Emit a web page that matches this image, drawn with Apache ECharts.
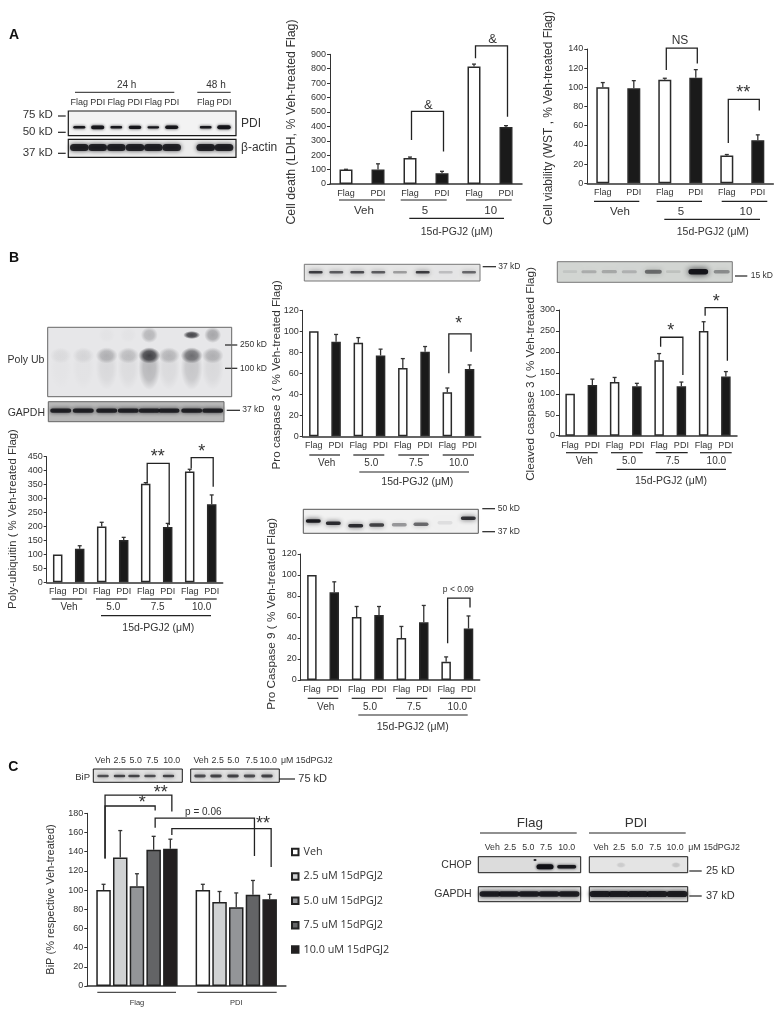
<!DOCTYPE html>
<html>
<head>
<meta charset="utf-8">
<title>PDI panels</title>
<script src="https://cdn.jsdelivr.net/npm/echarts@6/dist/echarts.min.js"></script>
<style>
  html, body { margin: 0; padding: 0; background: #fff; }
  #chart { width: 780px; height: 1017px; }
</style>
</head>
<body>
<div id="chart"></div>
<script>
const flagPdi6 = ['Flag', 'PDI', 'Flag', 'PDI', 'Flag', 'PDI']
const flagPdi8 = ['Flag', 'PDI', 'Flag', 'PDI', 'Flag', 'PDI', 'Flag', 'PDI']

const ldhValues = [100, 100, 180, 75, 815, 395]
const ldhErrors = [2, 40, 7, 13, 17, 10]
const ldhBrackets = [[2, 3, 305, 225, 504], [4, 5, 872, 467, 958]]

const wstValues = [100, 99, 108, 110, 29, 45]
const wstErrors = [5, 8, 1.5, 8.5, 1, 5.5]
const wstBrackets = [[2, 3, 118, 125, 141], [4, 5, 42, 76, 87.5]]

const polyUbValues = [100, 120, 200, 152, 353, 198, 397, 280]
const polyUbErrors = [0, 11, 15, 9, 4, 13, 8, 33]
const polyUbBrackets = [[4, 5, 354, 205, 426], [6, 7, 408, 342, 447]]

const proCasp3Values = [100, 90, 89, 77, 65, 80.5, 42, 64]
const proCasp3Errors = [0, 7, 5, 6, 9, 5, 4, 4]
const proCasp3Brackets = [[6, 7, 60, 80.6, 97.5]]

const cleavedValues = [100, 121, 128, 118, 180, 118, 250, 141]
const cleavedErrors = [0, 14, 11, 7, 16, 10, 22, 12]
const cleavedBrackets = [[4, 5, 212, 145, 235], [6, 7, 286, 179, 305.5]]

const proCasp9Values = [100, 83.5, 60, 62, 40, 55, 17.5, 49]
const proCasp9Errors = [0, 10, 10, 8, 11, 16, 4.5, 12]
const proCasp9Brackets = [[6, 7, 35, 69, 78]]

const bipGroups = ['Flag', 'PDI']
const bipDoses = ['Veh', '2.5 uM 15dPGJ2', '5.0 uM 15dPGJ2', '7.5 uM 15dPGJ2', '10.0 uM 15dPGJ2']
const bipFlagValues = [100, 134, 104, 142, 143]
const bipFlagErrors = [6, 28, 13, 14, 10]
const bipPdiValues = [100, 87.5, 82, 95, 90.5]
const bipPdiErrors = [6, 11, 15, 15, 5]
// slots 0-4 are the Flag bars, 5-9 the PDI bars
const bipBrackets = [[0, 4, 133, 182, 199], [0, 3, 133, 182.8, 187.6], [3, 8, 165, 135.5, 175], [4, 9, 157.4, 124, 164]]
const bipColors = ['#ffffff', '#d0d2d3', '#939598', '#636466', '#231f20']

const pdiBlotStrength = [2, 3.2, 1.8, 2.6, 1.7, 3, 1.8, 3.5]
const polyUbMainBand = [0.05, 0.07, 0.22, 0.17, 0.72, 0.2, 0.5, 0.22]
const polyUbTopBand = [0, 0, 0.02, 0.02, 0.22, 0, 0.75, 0.3]
const proCasp3Blot = [0.75, 0.6, 0.68, 0.6, 0.32, 0.75, 0.18, 0.55]
const cleavedBlot = [0.08, 0.2, 0.22, 0.18, 0.5, 0.1, 0.95, 0.35]
const proCasp9Blot = [0.92, 0.82, 0.82, 0.72, 0.36, 0.55, 0.08, 0.8]
const bipBlot = [0.65, 0.7, 0.7, 0.65, 0.7]
const chopFlagBlot = [0, 0, 0, 0.98, 0.9]
const chopPdiBlot = [0, 0.12, 0, 0, 0.15]

const FONT = '"Liberation Sans", Arial, sans-serif'
const INK = '#333'

const grids = []
const xAxes = []
const yAxes = []
const seriesList = []
const gfx = []

const txt = (text, x, y, o = {}) => {
  gfx.push({
    type: 'text', x, y, rotation: o.rot || 0, silent: true, z: 20,
    style: {
      text,
      fill: o.color || INK,
      font: `${o.weight || 'normal'} ${o.size || 9}px ${o.family || FONT}`,
      align: o.align || 'center',
      verticalAlign: 'middle'
    }
  })
}

const ln = (x1, y1, x2, y2, width = 1, color = '#222') => {
  gfx.push({ type: 'line', silent: true, shape: { x1, y1, x2, y2 }, style: { stroke: color, lineWidth: width } })
}

const panelBg = (x, y, w, h, fill) => {
  gfx.push({ type: 'rect', silent: true, shape: { x, y, width: w, height: h }, style: { fill } })
}

const panelBorder = (x, y, w, h, color = '#222', width = 1) => {
  gfx.push({ type: 'rect', silent: true, z: 5, shape: { x, y, width: w, height: h }, style: { fill: 'none', stroke: color, lineWidth: width } })
}

// soft diffuse patch, used for the smears of the poly ub blot
const band = (cx, cy, rx, ry, alpha) => {
  if (alpha <= 0) return
  gfx.push({
    type: 'circle', silent: true, x: cx, y: cy, scaleX: rx / 10, scaleY: ry / 10,
    shape: { cx: 0, cy: 0, r: 10 },
    style: {
      fill: new echarts.graphic.RadialGradient(0.5, 0.5, 0.5, [
        { offset: 0, color: `rgba(15,15,20,${alpha})` },
        { offset: 0.55, color: `rgba(15,15,20,${alpha * 0.85})` },
        { offset: 1, color: 'rgba(15,15,20,0)' }
      ])
    }
  })
}

// flat western blot band with a blurred edge
const strip = (cx, cy, w, h, alpha, blur = 3) => {
  if (alpha <= 0) return
  const color = `rgba(15,15,20,${alpha})`
  gfx.push({
    type: 'rect', silent: true,
    shape: { x: cx - w / 2, y: cy - h / 2, width: w, height: h, r: h / 2 },
    style: { fill: color, shadowBlur: blur, shadowColor: color }
  })
}

// 6 or 8 bar panel: white Flag bars, black PDI bars, sd whiskers and brackets in data units
function barPanel(p) {
  const idx = grids.length
  grids.push({ left: p.left, top: p.top, width: p.width, height: p.height })
  xAxes.push(xAxisOf(idx, p.categories, p.labelMargin || 5))
  yAxes.push(yAxisOf(idx, p.max, p.interval))
  seriesList.push({
    type: 'bar',
    xAxisIndex: idx,
    yAxisIndex: idx,
    barWidth: p.barWidth,
    data: p.values.map((v, i) => ({
      value: v,
      itemStyle: {
        color: i % 2 ? '#1a1a1a' : '#fff',
        borderColor: '#2a2a2a',
        borderWidth: 1.5
      }
    }))
  })
  seriesList.push(errorSeries(idx, p.values, p.errors, 0))
  seriesList.push(bracketSeries(idx, p.brackets, (api, slot) => api.coord([slot, 0])[0]))
}

function xAxisOf(idx, categories, margin) {
  return {
    type: 'category',
    gridIndex: idx,
    data: categories,
    axisTick: { show: false },
    axisLine: { lineStyle: { color: '#333', width: 1.5 } },
    axisLabel: { interval: 0, color: INK, fontSize: 9, fontFamily: FONT, margin }
  }
}

function yAxisOf(idx, max, interval) {
  return {
    type: 'value',
    gridIndex: idx,
    min: 0,
    max,
    interval,
    splitLine: { show: false },
    axisLine: { show: true, lineStyle: { color: '#333', width: 1 } },
    axisTick: { show: true, length: 3, lineStyle: { color: '#333' } },
    axisLabel: { color: INK, fontSize: 9, fontFamily: FONT, margin: 4 }
  }
}

function errorSeries(idx, values, errors, offset) {
  return {
    type: 'custom',
    xAxisIndex: idx,
    yAxisIndex: idx,
    silent: true,
    z: 3,
    data: values.map((v, i) => [i, v, v + errors[i]]),
    encode: { x: 0, y: [1, 2] },
    renderItem: (params, api) => {
      const i = params.dataIndex
      if (!errors[i]) return null
      const a = api.coord([i, values[i]])
      const b = api.coord([i, values[i] + errors[i]])
      const x = a[0] + offset
      const style = { stroke: '#333', lineWidth: 1.3 }
      return {
        type: 'group',
        children: [
          { type: 'line', shape: { x1: x, y1: a[1], x2: x, y2: b[1] }, style },
          { type: 'line', shape: { x1: x - 2, y1: b[1], x2: x + 2, y2: b[1] }, style }
        ]
      }
    }
  }
}

function bracketSeries(idx, rows, xOf) {
  return {
    type: 'custom',
    xAxisIndex: idx,
    yAxisIndex: idx,
    silent: true,
    z: 4,
    clip: false,
    data: rows.map(r => [0, r[4]]),
    encode: { x: 0, y: 1 },
    renderItem: (params, api) => {
      const r = rows[params.dataIndex]
      const x1 = xOf(api, r[0]) + 1.5
      const x2 = xOf(api, r[1]) + 1.5
      const y = v => api.coord([0, v])[1]
      return {
        type: 'polyline',
        shape: { points: [[x1, y(r[2])], [x1, y(r[4])], [x2, y(r[4])], [x2, y(r[3])]] },
        style: { stroke: '#222', lineWidth: 1.3, fill: 'none' }
      }
    }
  }
}

// ---- section letters ----
txt('A', 14, 34.7, { size: 14, weight: 'bold', color: '#111' })
txt('B', 14, 258.3, { size: 14, weight: 'bold', color: '#111' })
txt('C', 13.3, 767.3, { size: 14, weight: 'bold', color: '#111' })

// ---- dose labelling under a panel ----
function doseLabels(underY, unders, labelY, labels, lineY, lineX, title, size) {
  unders.forEach(u => ln(u[0], underY, u[1], underY, 1.2))
  labels.forEach(l => txt(l[0], l[1], labelY, { size: size }))
  ln(lineX[0], lineY, lineX[1], lineY, 1.2)
  txt('15d-PGJ2 (μM)', title[0], title[1], { size: 10.5 })
}

// ---- A: blot ----
const aLanes = [79.3, 97.7, 116.3, 135, 153.3, 171.7, 205.7, 224]
txt('24 h', 126.7, 85.7, { size: 10 })
txt('48 h', 216, 85.7, { size: 10 })
ln(75, 92.3, 174.3, 92.3)
ln(197.3, 92.3, 230.7, 92.3)
aLanes.forEach((x, i) => txt(flagPdi8[i], x, 102.3, { size: 9 }))
panelBg(68.3, 111, 167.7, 24.7, '#f3f3f3')
panelBg(68.3, 139.3, 167.7, 18, '#ececec')
aLanes.forEach((x, i) => strip(x, 127.3, 10 + pdiBlotStrength[i], pdiBlotStrength[i] + 0.6, 0.92))
aLanes.forEach(x => strip(x, 147.5, 18.6, 7, 0.85, 4))
panelBorder(68.3, 111, 167.7, 24.7, '#1a1a1a', 1.2)
panelBorder(68.3, 139.3, 167.7, 18, '#1a1a1a', 1.2)
txt('75 kD', 52.7, 115.3, { size: 11.5, align: 'right' })
txt('50 kD', 52.7, 132, { size: 11.5, align: 'right' })
txt('37 kD', 52.7, 152.7, { size: 11.5, align: 'right' })
ln(58, 116, 65.7, 116, 1.2)
ln(58, 132.3, 65.7, 132.3, 1.2)
ln(58, 153.3, 65.7, 153.3, 1.2)
txt('PDI', 241, 124, { size: 12, align: 'left' })
txt('β-actin', 241, 148, { size: 12, align: 'left' })

// ---- A: LDH ----
barPanel({
  left: 330, top: 54.3, width: 192, height: 129.7, categories: flagPdi6, max: 900, interval: 100,
  values: ldhValues, errors: ldhErrors, brackets: ldhBrackets, barWidth: 13
})
txt('Cell death (LDH, % Veh-treated Flag)', 291.7, 122, { size: 12.4, rot: Math.PI / 2 })
txt('&', 428.3, 105, { size: 13 })
txt('&', 492.7, 39.3, { size: 13 })
doseLabels(200, [[339, 385], [400.7, 446.7], [466, 511.7]], 211, [['Veh', 364], ['5', 425], ['10', 490.7]],
  218.3, [409.3, 504], [456.7, 231.7], 11.5)

// ---- A: WST ----
barPanel({
  left: 587.3, top: 49, width: 186, height: 134.3, categories: flagPdi6, max: 140, interval: 20,
  values: wstValues, errors: wstErrors, brackets: wstBrackets, barWidth: 13
})
txt('Cell viability (WST , % Veh-treated Flag)', 549, 118, { size: 12, rot: Math.PI / 2 })
txt('NS', 680, 40.7, { size: 12 })
txt('**', 743.3, 93, { size: 18 })
doseLabels(201.3, [[594, 639.3], [656.7, 702], [721.7, 767.3]], 211.7, [['Veh', 620], ['5', 681], ['10', 746]],
  219.3, [664.3, 760], [712.7, 232.3], 11.5)

// ---- B: poly ub blot ----
const ubLanes = [60.7, 83.3, 106.7, 128.3, 149.3, 169, 191.7, 212.7]
panelBg(47.7, 327.3, 184, 69.4, '#e7e7e9')
ubLanes.forEach((x, i) => {
  band(x, 368, 11, 22, polyUbMainBand[i] * 0.3)
  band(x, 355.5, 11, 8, polyUbMainBand[i])
  band(x, 335, 8.5, polyUbTopBand[i] > 0.5 ? 4 : 8, polyUbTopBand[i])
})
panelBorder(47.7, 327.3, 184, 69.4, '#666')
panelBg(48.3, 401.7, 175.7, 20, '#b8b8b8')
ubLanes.forEach(x => strip(x, 410.7, 21, 4.2, 0.85, 4))
panelBorder(48.3, 401.7, 175.7, 20, '#666')
txt('Poly Ub', 44.3, 360.3, { size: 10.5, align: 'right' })
txt('GAPDH', 45, 412.7, { size: 10.5, align: 'right' })
ln(225, 345, 237.3, 345, 1.2)
ln(225, 368.3, 237.3, 368.3, 1.2)
ln(226.7, 410.3, 240, 410.3, 1.2)
txt('250 kD', 240, 345, { size: 8.5, align: 'left' })
txt('100 kD', 240, 368.3, { size: 8.5, align: 'left' })
txt('37 kD', 242.3, 410, { size: 8.5, align: 'left' })

// ---- B: poly ub chart ----
barPanel({
  left: 46.7, top: 456.7, width: 176, height: 125.6, categories: flagPdi8, max: 450, interval: 50,
  values: polyUbValues, errors: polyUbErrors, brackets: polyUbBrackets, barWidth: 9.5
})
txt('Poly-ubiquitin ( % Veh-treated Flag)', 13.3, 519, { size: 11.4, rot: Math.PI / 2 })
txt('**', 157.7, 457, { size: 18 })
txt('*', 201.7, 452, { size: 18 })
doseLabels(599, [[51.7, 82.3], [96, 127.3], [140.7, 172], [185, 216.7]], 607.3,
  [['Veh', 69], ['5.0', 113.3], ['7.5', 157.7], ['10.0', 201.7]], 615.7, [101, 211], [158.3, 628.3], 10)

// ---- B: pro caspase 3 ----
panelBg(304.3, 264.3, 175.7, 16.7, '#e6e6e6')
;[315.7, 336.3, 357.3, 378.3, 400, 422.7, 445.7, 469].forEach((x, i) => strip(x, 272.3, 14, 2.4, proCasp3Blot[i], 5))
panelBorder(304.3, 264.3, 175.7, 16.7, '#777')
ln(482.7, 266.7, 496, 266.7, 1.2)
txt('37 kD', 498.3, 266.7, { size: 8.5, align: 'left' })
barPanel({
  left: 302.7, top: 310.3, width: 178, height: 126, categories: flagPdi8, max: 120, interval: 20,
  values: proCasp3Values, errors: proCasp3Errors, brackets: proCasp3Brackets, barWidth: 9.5
})
txt('Pro caspase 3 ( % Veh-treated Flag)', 276.7, 375, { size: 11.7, rot: Math.PI / 2 })
txt('*', 458.7, 324, { size: 18 })
doseLabels(455, [[309.3, 340], [353.3, 384.3], [398.3, 429], [442.7, 474]], 463.7,
  [['Veh', 326.7], ['5.0', 371.3], ['7.5', 416], ['10.0', 458.7]], 472, [359.3, 469], [417.3, 482.3], 10)

// ---- B: cleaved caspase 3 ----
panelBg(557.3, 261.7, 175, 20.6, '#d3d6d3')
;[570, 589, 609.3, 629.3, 653.3, 673.3, 698.3, 721.7].forEach((x, i) => strip(x, 271.7, 14 + cleavedBlot[i] * 6, 2.5 + cleavedBlot[i] * 3, cleavedBlot[i], 6))
panelBorder(557.3, 261.7, 175, 20.6, '#777')
ln(735, 276, 747.3, 276, 1.2)
txt('15 kD', 750.7, 276, { size: 8.5, align: 'left' })
barPanel({
  left: 559, top: 310, width: 178, height: 125.7, categories: flagPdi8, max: 300, interval: 50,
  values: cleavedValues, errors: cleavedErrors, brackets: cleavedBrackets, barWidth: 9.5
})
txt('Cleaved caspase 3 ( % Veh-treated Flag)', 530.7, 374, { size: 11.7, rot: Math.PI / 2 })
txt('*', 670.7, 331, { size: 18 })
txt('*', 716.3, 302, { size: 18 })
doseLabels(452.7, [[566, 597.7], [611, 642.7], [655.7, 687.7], [700, 731.7]], 461.3,
  [['Veh', 584.3], ['5.0', 629], ['7.5', 672.7], ['10.0', 716.3]], 469.3, [616.7, 726], [671, 481], 10)

// ---- B: pro caspase 9 ----
panelBg(303.3, 509.3, 175, 24, '#f1f1f1')
;[[313.3, 521], [333.3, 523.3], [355.7, 525.7], [376.7, 525], [399.3, 524.7], [421, 524.3], [445, 522.7], [468.3, 518.3]]
  .forEach((b, i) => strip(b[0], b[1], 15, 3.4, proCasp9Blot[i], 5))
panelBorder(303.3, 509.3, 175, 24, '#555')
ln(482.3, 508.7, 495, 508.7, 1.2)
ln(482.3, 531.7, 495, 531.7, 1.2)
txt('50 kD', 497.7, 508.7, { size: 8.5, align: 'left' })
txt('37 kD', 497.7, 531.7, { size: 8.5, align: 'left' })
barPanel({
  left: 300.7, top: 554, width: 179, height: 126, categories: flagPdi8, max: 120, interval: 20,
  values: proCasp9Values, errors: proCasp9Errors, brackets: proCasp9Brackets, barWidth: 9.5
})
txt('Pro Caspase 9 ( % Veh-treated Flag)', 271.7, 614, { size: 11.7, rot: Math.PI / 2 })
txt('p < 0.09', 458.3, 590, { size: 8.5 })
doseLabels(698.3, [[307.7, 338.3], [351.7, 382.7], [396, 427.3], [440, 471.7]], 707,
  [['Veh', 325.7], ['5.0', 370], ['7.5', 414], ['10.0', 457.3]], 715, [358.3, 467.7], [412.7, 727.3], 10)

// ---- C: BiP blot ----
const bipLabels = ['Veh', '2.5', '5.0', '7.5', '10.0']
;[102.7, 119.7, 135.7, 152.3, 171.7, 201, 217.7, 233.3, 251.7, 268.3].forEach((x, i) => txt(bipLabels[i % 5], x, 761, { size: 8.8 }))
txt('μM 15dPGJ2', 281, 761, { size: 8.8, align: 'left' })
panelBg(93.3, 769, 89, 13.3, '#e2e2e2')
panelBg(190.7, 769, 88.6, 13.3, '#e2e2e2')
;[103, 119.5, 134, 150, 168.5].forEach((x, i) => strip(x, 776, 11.5, 2.4, bipBlot[i], 4))
;[200, 216, 233, 249.5, 267].forEach((x, i) => strip(x, 776, 11.5, 2.8, bipBlot[i], 4))
panelBorder(93.3, 769, 89, 13.3, '#1a1a1a')
panelBorder(190.7, 769, 88.6, 13.3, '#1a1a1a')
txt('BiP', 90, 777.3, { size: 9.5, align: 'right' })
ln(279, 779, 295, 779, 1.2)
txt('75 kD', 298.3, 779, { size: 11, align: 'left' })

// ---- C: BiP chart ----
const bipIdx = grids.length
const bipSlotGap = 16.7
grids.push({ left: 87.3, top: 813.3, width: 198.6, height: 172.7 })
xAxes.push(xAxisOf(bipIdx, bipGroups, 13))
xAxes[bipIdx].axisLabel.fontSize = 7.5
yAxes.push(yAxisOf(bipIdx, 180, 20))
bipColors.forEach((color, s) => {
  seriesList.push({
    type: 'bar',
    name: bipDoses[s],
    xAxisIndex: bipIdx,
    yAxisIndex: bipIdx,
    barWidth: 14.5,
    barGap: '15.2%',
    itemStyle: { color, borderColor: '#222', borderWidth: 1.5 },
    data: [bipFlagValues[s], bipPdiValues[s]]
  })
  seriesList.push(errorSeries(bipIdx, [bipFlagValues[s], bipPdiValues[s]], [bipFlagErrors[s], bipPdiErrors[s]], (s - 2) * bipSlotGap))
})
seriesList.push(bracketSeries(bipIdx, bipBrackets, (api, slot) =>
  api.coord([slot < 5 ? 0 : 1, 0])[0] + (slot % 5 - 2) * bipSlotGap))
txt('BiP (% respective Veh-treated)', 51, 899.5, { size: 11, rot: Math.PI / 2 })
txt('*', 142.3, 803, { size: 18 })
txt('**', 160.7, 793, { size: 18 })
txt('p = 0.06', 203.3, 812.3, { size: 10 })
txt('**', 263, 824, { size: 18 })
ln(97.3, 992.3, 176, 992.3)
ln(197.3, 992.3, 276.7, 992.3)

// ---- C: CHOP blot ----
txt('Flag', 530, 823.3, { size: 13.5 })
txt('PDI', 636, 823.3, { size: 13.5 })
ln(480, 833, 576.7, 833, 1.2)
ln(589, 833, 685.7, 833, 1.2)
;[492.3, 510, 528.3, 546, 566.7, 601, 619, 637.3, 655.3, 675].forEach((x, i) => txt(bipLabels[i % 5], x, 847.3, { size: 8.8 }))
txt('μM 15dPGJ2', 688.3, 847.3, { size: 8.8, align: 'left' })
panelBg(478.3, 856.7, 102.4, 16, '#dcdcdc')
panelBg(589.3, 856.7, 98.4, 16, '#e4e4e4')
panelBg(478.3, 886.7, 102.4, 15, '#dedede')
panelBg(589.3, 886.7, 98.4, 15, '#dedede')
;[491, 509, 527, 545, 566.7].forEach((x, i) => strip(x, 866.7, i === 3 ? 17 : 19, i === 3 ? 5 : 3.4, chopFlagBlot[i], 3))
band(535, 860, 2, 1.6, 0.95)
;[601, 621, 640, 655, 676].forEach((x, i) => band(x, 865, 5, 3, chopPdiBlot[i]))
;[490, 509, 529, 549, 569].forEach(x => strip(x, 894, 21, 5.4, 0.88, 4))
;[600, 619, 638, 657, 677].forEach(x => strip(x, 894, 21, 6.2, 0.88, 4))
panelBorder(478.3, 856.7, 102.4, 16, '#1a1a1a')
panelBorder(589.3, 856.7, 98.4, 16, '#1a1a1a')
panelBorder(478.3, 886.7, 102.4, 15, '#1a1a1a')
panelBorder(589.3, 886.7, 98.4, 15, '#1a1a1a')
txt('CHOP', 471.7, 865, { size: 10.5, align: 'right' })
txt('GAPDH', 471.7, 894.3, { size: 10.5, align: 'right' })
ln(689.3, 871, 701.7, 871, 1.2)
ln(689.3, 896, 701.7, 896, 1.2)
txt('25 kD', 706, 871, { size: 11, align: 'left' })
txt('37 kD', 706, 896, { size: 11, align: 'left' })

const chart = echarts.init(document.getElementById('chart'))
chart.setOption({
  animation: false,
  backgroundColor: '#fff',
  grid: grids,
  xAxis: xAxes,
  yAxis: yAxes,
  series: seriesList,
  graphic: { elements: gfx },
  legend: {
    orient: 'vertical',
    left: 291,
    top: 846.5,
    padding: 0,
    itemWidth: 6.5,
    itemHeight: 6.5,
    itemGap: 13.4,
    icon: 'rect',
    selectedMode: false,
    data: bipDoses,
    textStyle: { color: INK, fontSize: 10.8, fontFamily: '"Open Sans"' }
  }
})
</script>
</body>
</html>
